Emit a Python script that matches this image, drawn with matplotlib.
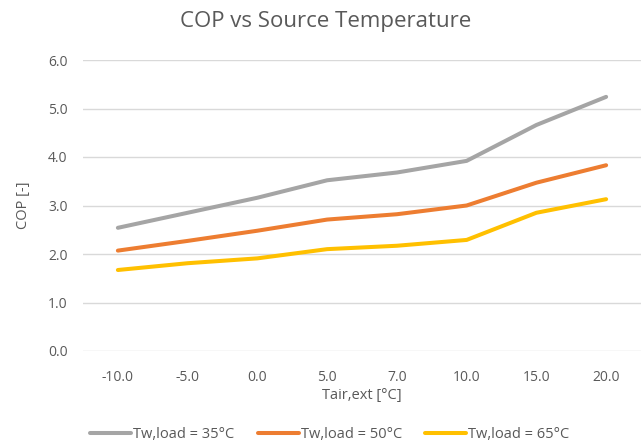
import matplotlib
matplotlib.use("Agg")
import matplotlib.pyplot as plt

categories = ["-10.0", "-5.0", "0.0", "5.0", "7.0", "10.0", "15.0", "20.0"]
cop_35 = [2.54, 2.85, 3.16, 3.52, 3.68, 3.92, 4.66, 5.24]
cop_50 = [2.07, 2.27, 2.48, 2.71, 2.82, 3.00, 3.47, 3.83]
cop_65 = [1.67, 1.81, 1.91, 2.10, 2.17, 2.29, 2.85, 3.13]
series_labels = ["Tw,load = 35°C", "Tw,load = 50°C", "Tw,load = 65°C"]
colors = ["#A5A5A5", "#ED7D31", "#FFC000"]
yticks = [0, 1, 2, 3, 4, 5, 6]

plt.rcParams['font.family'] = ['Open Sans', 'DejaVu Sans']
txt = "#595959"

fig = plt.figure(figsize=(6.43, 4.47), dpi=100)
ax = fig.add_axes([83/643, 1 - 351/447, (641 - 83)/643, (351 - 60)/447])

x = list(range(len(categories)))
for vals, lab, c in zip([cop_35, cop_50, cop_65], series_labels, colors):
    ax.plot(x, vals, color=c, lw=2.9, label=lab, solid_capstyle='round')

ax.set_xlim(-0.5, len(categories) - 0.5)
ax.set_ylim(0, 6)
ax.set_yticks(yticks)
ax.set_yticklabels([f"{v:.1f}" for v in yticks], color=txt, fontsize=10)
ax.set_xticks(x)
ax.set_xticklabels(categories, color=txt, fontsize=10)
ax.tick_params(axis='x', length=0, pad=14)
ax.tick_params(axis='y', length=0, pad=11)
ax.grid(axis='y', color="#D9D9D9", lw=1)
ax.set_axisbelow(True)
for s in ax.spines.values():
    s.set_visible(False)

ax.set_xlabel("Tair,ext [°C]", color=txt, fontsize=10.5, labelpad=2)
ax.set_ylabel("COP [-]", color=txt, fontsize=10.5, labelpad=12)
fig.text(326/643, 1 - 21/447, "COP vs Source Temperature", ha='center', va='center',
         color=txt, fontsize=16)

fig.legend(loc='center', bbox_to_anchor=(330/643, 1 - 435/447), ncol=3, frameon=False,
           fontsize=10.5, labelcolor=txt, handlelength=2.8, handletextpad=0.15,
           columnspacing=1.6)

fig.savefig("out.png", dpi=100)
